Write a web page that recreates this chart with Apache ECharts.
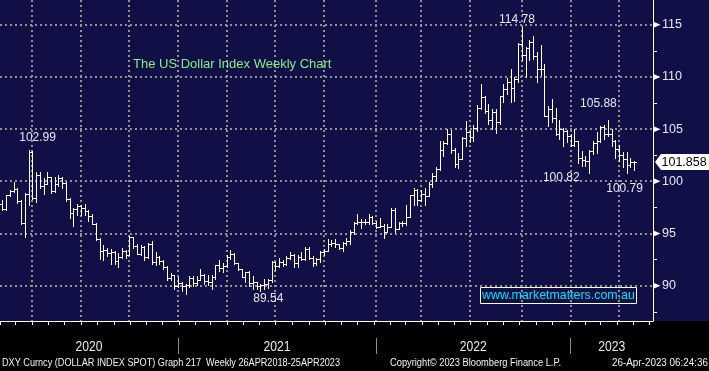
<!DOCTYPE html>
<html>
<head>
<meta charset="utf-8">
<script src="https://cdn.jsdelivr.net/npm/echarts@6/dist/echarts.min.js"></script>
<style>
html,body{margin:0;padding:0;background:#000;}
#chart{width:709px;height:371px;}
</style>
</head>
<body>
<div id="chart"></div>
<script>
// ---- data (weekly bars, week-ending Friday) ----
const weeks = [
'2020-01-17','2020-01-24','2020-01-31','2020-02-07','2020-02-14','2020-02-21','2020-02-28','2020-03-06','2020-03-13','2020-03-20',
'2020-03-27','2020-04-03','2020-04-10','2020-04-17','2020-04-24','2020-05-01','2020-05-08','2020-05-15','2020-05-22','2020-05-29',
'2020-06-05','2020-06-12','2020-06-19','2020-06-26','2020-07-03','2020-07-10','2020-07-17','2020-07-24','2020-07-31','2020-08-07',
'2020-08-14','2020-08-21','2020-08-28','2020-09-04','2020-09-11','2020-09-18','2020-09-25','2020-10-02','2020-10-09','2020-10-16',
'2020-10-23','2020-10-30','2020-11-06','2020-11-13','2020-11-20','2020-11-27','2020-12-04','2020-12-11','2020-12-18','2020-12-25',
'2021-01-01','2021-01-08','2021-01-15','2021-01-22','2021-01-29','2021-02-05','2021-02-12','2021-02-19','2021-02-26','2021-03-05',
'2021-03-12','2021-03-19','2021-03-26','2021-04-02','2021-04-09','2021-04-16','2021-04-23','2021-04-30','2021-05-07','2021-05-14',
'2021-05-21','2021-05-28','2021-06-04','2021-06-11','2021-06-18','2021-06-25','2021-07-02','2021-07-09','2021-07-16','2021-07-23',
'2021-07-30','2021-08-06','2021-08-13','2021-08-20','2021-08-27','2021-09-03','2021-09-10','2021-09-17','2021-09-24','2021-10-01',
'2021-10-08','2021-10-15','2021-10-22','2021-10-29','2021-11-05','2021-11-12','2021-11-19','2021-11-26','2021-12-03','2021-12-10',
'2021-12-17','2021-12-24','2021-12-31','2022-01-07','2022-01-14','2022-01-21','2022-01-28','2022-02-04','2022-02-11','2022-02-18',
'2022-02-25','2022-03-04','2022-03-11','2022-03-18','2022-03-25','2022-04-01','2022-04-08','2022-04-15','2022-04-22','2022-04-29',
'2022-05-06','2022-05-13','2022-05-20','2022-05-27','2022-06-03','2022-06-10','2022-06-17','2022-06-24','2022-07-01','2022-07-08',
'2022-07-15','2022-07-22','2022-07-29','2022-08-05','2022-08-12','2022-08-19','2022-08-26','2022-09-02','2022-09-09','2022-09-16',
'2022-09-23','2022-09-30','2022-10-07','2022-10-14','2022-10-21','2022-10-28','2022-11-04','2022-11-11','2022-11-18','2022-11-25',
'2022-12-02','2022-12-09','2022-12-16','2022-12-23','2022-12-30','2023-01-06','2023-01-13','2023-01-20','2023-01-27','2023-02-03',
'2023-02-10','2023-02-17','2023-02-24','2023-03-03','2023-03-10','2023-03-17','2023-03-24','2023-03-31','2023-04-07','2023-04-14',
'2023-04-21','2023-04-28'
];
const open = [
97.00,97.61,97.87,97.39,98.68,99.12,99.26,98.13,95.98,98.75,
102.82,98.36,100.59,99.52,99.77,100.37,99.06,99.73,100.36,99.85,
98.34,96.94,97.33,97.66,97.43,97.17,96.64,95.92,94.44,93.35,
93.40,93.09,93.24,92.37,92.73,93.33,92.93,94.64,93.84,93.06,
93.68,92.77,94.04,92.23,92.76,92.39,91.79,90.70,90.98,90.02,
90.26,89.94,90.10,90.77,90.24,90.58,91.04,90.48,90.36,90.88,
91.98,91.67,91.92,92.77,93.02,92.17,91.56,90.85,91.28,90.22,
90.32,90.01,90.03,90.13,90.55,92.23,91.85,92.23,92.12,92.68,
92.90,92.17,92.78,92.52,93.47,92.67,92.14,92.58,93.22,93.33,
94.04,94.08,93.97,93.64,94.12,94.33,95.13,96.03,96.09,96.14,
96.08,96.63,96.05,95.67,95.74,95.18,95.64,97.26,95.47,96.04,
96.02,96.62,98.67,99.13,98.21,98.79,98.63,99.77,100.52,101.17,
103.00,103.66,104.56,103.03,101.66,102.16,104.15,104.69,104.20,105.14,
107.01,108.07,106.73,105.90,106.62,105.69,108.15,108.82,109.54,108.97,
109.76,113.19,112.12,112.79,113.31,111.98,110.75,110.77,106.27,106.92,
106.04,104.55,104.98,104.83,104.31,103.52,103.89,102.20,102.00,101.93,
102.92,103.63,103.86,105.21,104.52,104.58,103.86,103.12,102.51,102.11,
101.55,101.82
];
const high = [
97.70,97.90,98.20,98.70,99.20,99.91,99.40,98.20,98.90,102.99,
102.90,100.93,100.90,100.30,100.90,100.40,100.40,100.60,100.40,99.90,
98.40,97.40,97.80,97.70,97.80,97.30,96.90,96.00,94.60,93.90,
93.60,93.50,93.30,93.10,93.60,93.40,94.74,94.70,94.00,93.90,
93.80,94.10,94.30,93.20,92.80,92.50,91.90,91.20,91.00,90.80,
90.40,90.20,90.95,90.90,90.90,91.60,91.10,91.00,91.00,92.00,
92.50,92.20,92.90,93.44,93.10,92.20,91.60,91.30,91.40,90.90,
90.40,90.20,90.60,90.60,92.40,92.30,92.70,92.50,92.80,93.20,
93.00,92.90,93.20,93.70,93.70,92.80,92.70,93.30,93.50,94.50,
94.40,94.50,94.00,94.20,94.60,95.30,96.10,96.90,96.40,96.40,
96.90,96.70,96.20,96.50,95.90,95.90,97.40,97.40,96.10,96.20,
97.70,98.70,99.40,99.30,99.20,99.40,99.90,100.80,101.40,103.90,
103.90,105.00,104.90,103.20,102.70,104.20,105.80,104.80,105.40,107.30,
109.29,108.20,107.40,106.90,106.90,108.20,109.30,109.90,110.80,110.00,
113.25,114.78,112.90,113.50,113.95,112.40,113.10,111.20,107.20,107.90,
107.00,105.90,105.10,104.90,104.50,105.00,103.90,102.90,102.40,103.00,
103.90,104.70,105.30,105.40,105.88,105.00,104.00,103.50,102.80,102.80,
102.20,101.90
];
const low = [
96.90,97.30,97.30,97.30,98.60,99.00,97.90,95.90,94.65,97.70,
98.30,98.00,99.40,98.80,99.70,98.90,99.00,99.60,99.40,98.10,
96.50,95.70,96.80,96.80,96.80,96.20,95.90,94.40,92.55,92.50,
92.80,92.10,92.10,91.75,92.70,92.70,92.90,93.60,93.00,92.90,
92.50,92.70,92.10,92.00,92.10,91.60,90.50,90.50,89.70,89.90,
89.50,89.21,89.90,90.00,90.10,90.50,90.20,90.10,89.70,90.60,
91.40,91.30,91.80,92.60,92.10,91.50,90.80,90.40,90.00,89.70,
89.65,89.54,89.70,89.80,90.40,91.50,91.80,91.90,92.00,92.60,
91.80,91.80,92.50,92.50,92.60,91.90,92.00,92.30,92.90,93.30,
93.80,93.70,93.50,93.30,93.90,94.00,95.00,95.90,95.50,95.90,
95.90,95.90,95.50,95.60,94.60,95.10,95.60,95.10,95.40,95.70,
95.80,96.60,97.70,97.70,98.10,97.70,98.60,99.50,100.00,101.10,
102.40,103.60,102.70,101.40,101.30,102.10,103.40,103.80,103.90,104.80,
106.90,106.50,105.50,105.00,104.60,105.50,107.60,108.40,107.60,107.70,
109.50,111.60,110.00,111.60,111.70,109.50,110.20,106.25,105.30,105.70,
104.40,104.10,103.40,103.80,103.40,103.40,101.80,101.50,101.50,100.82,
102.60,102.70,103.80,104.10,104.30,103.40,102.20,101.90,101.40,100.79,
101.40,101.10
];
const close = [
97.61,97.87,97.39,98.68,99.12,99.26,98.13,95.98,98.75,102.82,
98.36,100.59,99.52,99.77,100.37,99.06,99.73,100.36,99.85,98.34,
96.94,97.33,97.66,97.43,97.17,96.64,95.92,94.44,93.35,93.40,
93.09,93.24,92.37,92.73,93.33,92.93,94.64,93.84,93.06,93.68,
92.77,94.04,92.23,92.76,92.39,91.79,90.70,90.98,90.02,90.26,
89.94,90.10,90.77,90.24,90.58,91.04,90.48,90.36,90.88,91.98,
91.67,91.92,92.77,93.02,92.17,91.56,90.85,91.28,90.22,90.32,
90.01,90.03,90.13,90.55,92.23,91.85,92.23,92.12,92.68,92.90,
92.17,92.78,92.52,93.47,92.67,92.14,92.58,93.22,93.33,94.04,
94.08,93.97,93.64,94.12,94.33,95.13,96.03,96.09,96.14,96.08,
96.63,96.05,95.67,95.74,95.18,95.64,97.26,95.47,96.04,96.02,
96.62,98.67,99.13,98.21,98.79,98.63,99.77,100.52,101.17,103.00,
103.66,104.56,103.03,101.66,102.16,104.15,104.69,104.20,105.14,107.01,
108.07,106.73,105.90,106.62,105.69,108.15,108.82,109.54,108.97,109.76,
113.19,112.12,112.79,113.31,111.98,110.75,110.77,106.27,106.92,106.04,
104.55,104.98,104.83,104.31,103.52,103.89,102.20,102.00,101.93,102.92,
103.63,103.86,105.21,104.52,104.58,103.86,103.12,102.51,102.11,101.55,
101.82,101.858
];
const yTicks = [90, 95, 100, 105, 110, 115];
const yMinorTicks = [87.5, 92.5, 97.5, 102.5, 107.5, 112.5];
const annotIdx  = [9, 141, 164, 159, 169, 71];
const annotSide = ['high', 'high', 'high', 'low', 'low', 'low'];
const chartTitle = 'The US Dollar Index Weekly Chart';
const siteText = 'www.marketmatters.com.au';
const footerLeft = 'DXY Curncy (DOLLAR INDEX SPOT) Graph 217  Weekly 26APR2018-25APR2023';
const footerMid = 'Copyright\u00A9 2023 Bloomberg Finance L.P.';
const footerRight = '26-Apr-2023 06:24:36';

// ---- layout / style ----
const X_MIN = 1.36, X_MAX = 176.06, Y_MIN = 86.62, Y_MAX = 117.37;
const NAVY = '#100f46';
const GRID_COLOR = '#929292';
const LABEL_COLOR = '#e2e8f8';
const FONT = '"Liberation Sans", Arial, sans-serif';
const ANNOT_OFFSETS = [[9, -12], [-5, -7.4], [-9.5, -16.3], [-28, 5], [-2, 15.6], [8, 8]];

// ---- derived axis positions from dates ----
const WEEK = 7 * 86400000;
const t0 = Date.parse(weeks[0] + 'T00:00:00Z');
const monthTicks = [];
for (let y = 2020; y <= 2023; y++) {
  for (let m = 0; m < 12; m++) {
    const p = (Date.UTC(y, m, 1) - t0) / WEEK - 0.75;
    if (p > X_MIN && p < X_MAX) monthTicks.push(+p.toFixed(3));
  }
}
const quarterIdx = [], yearIdx = [];
for (let i = 0; i < weeks.length - 1; i++) {
  const a = weeks[i], b = weeks[i + 1];
  const ma = +a.slice(5, 7) - 1, mb = +b.slice(5, 7) - 1;
  if (Math.floor(ma / 3) !== Math.floor(mb / 3)) quarterIdx.push(i);
  if (a.slice(0, 4) !== b.slice(0, 4)) yearIdx.push(i);
}
const yb = [X_MIN].concat(yearIdx, [X_MAX]);
const yearMid = [], yearName = [];
for (let k = 0; k < yb.length - 1; k++) {
  const mid = (yb[k] + yb[k + 1]) / 2;
  yearMid.push(mid);
  yearName.push(weeks[Math.min(weeks.length - 1, Math.round(mid))].slice(0, 4));
}

function fitScale(str, font, w) {
  const ctx = document.createElement('canvas').getContext('2d');
  ctx.font = font;
  return w / ctx.measureText(str).width;
}
const FOOT_FONT = '10px "Liberation Sans"';
const YEAR_FONT = '15px "Liberation Sans"';
const footers = [
  { text: footerLeft, x: 2, w: 338 },
  { text: footerMid, x: 390, w: 171 },
  { text: footerRight, x: 612, w: 96 }
];
const yearScale = fitScale('2020', YEAR_FONT, 27);

const ohlcData = weeks.map((d, i) => [i, open[i], high[i], low[i], close[i]]);

const chart = echarts.init(document.getElementById('chart'), null, { renderer: 'canvas' });
const option = {
  backgroundColor: '#000',
  animation: false,
  textStyle: { fontFamily: FONT },
  graphic: [
    { type: 'rect', z: -100, silent: true, shape: { x: 0, y: 0, width: 709, height: 321 }, style: { fill: NAVY } }
  ].concat(footers.map(f => ({
    type: 'text', x: f.x, y: 363, scaleX: fitScale(f.text, FOOT_FONT, f.w), scaleY: 1, silent: true,
    style: { text: f.text, font: FOOT_FONT, fill: '#f2f2f2', align: 'left', verticalAlign: 'middle' }
  }))),
  title: [
    { text: chartTitle, left: 133, top: 58, padding: 0,
      textStyle: { color: '#86ee86', fontSize: 13, fontWeight: 'normal', fontFamily: FONT } },
    { text: siteText, left: 480, top: 287, padding: [2, 2, 1, 2], borderColor: '#ffffff', borderWidth: 1,
      textStyle: { color: '#00e4f0', fontSize: 12.4, lineHeight: 14, fontWeight: 'normal', fontFamily: FONT } }
  ],
  grid: { left: 0, right: 56, top: 0, bottom: 50, containLabel: false, outerBoundsMode: 'none' },
  xAxis: [
    { type: 'value', position: 'bottom', min: X_MIN, max: X_MAX,
      axisLine: { show: true, onZero: false, lineStyle: { color: '#ffffff', width: 1 } },
      axisTick: { show: true, inside: false, length: 4, customValues: monthTicks, lineStyle: { color: '#ffffff', width: 1 } },
      axisLabel: { show: false }, splitLine: { show: false } },
    { type: 'value', position: 'bottom', offset: 17, min: X_MIN, max: X_MAX,
      axisLine: { show: false, onZero: false },
      axisTick: { show: true, inside: false, length: 16, customValues: yearIdx, lineStyle: { color: '#8c8c8c', width: 1 } },
      axisLabel: { show: false },
      splitLine: { show: false } }
  ],
  yAxis: {
    type: 'value', position: 'right', min: Y_MIN, max: Y_MAX,
    axisLine: { show: true, onZero: false, lineStyle: { color: '#ffffff', width: 1 } },
    axisTick: { show: true, inside: false, length: 4, customValues: yMinorTicks, lineStyle: { color: '#ffffff', width: 1 } },
    axisLabel: { show: true, customValues: yTicks, margin: 9, color: LABEL_COLOR, fontSize: 12.5, fontFamily: FONT },
    splitLine: { show: false }
  },
  series: [
    { type: 'custom', name: 'vgrid', silent: true, z: 1, clip: true,
      data: quarterIdx.map(i => [i, Y_MIN]), encode: { x: 0, y: 1 },
      renderItem: (params, api) => {
        const cs = params.coordSys;
        const x = Math.round(api.coord([api.value(0), api.value(1)])[0]);
        return { type: 'line', shape: { x1: x, y1: cs.y, x2: x, y2: cs.y + cs.height },
          style: { stroke: GRID_COLOR, lineWidth: 2, lineDash: [2, 3] } };
      } },
    { type: 'custom', name: 'hgrid', silent: true, z: 1, clip: true,
      data: yTicks.map(v => [X_MIN, v]), encode: { x: 0, y: 1 },
      renderItem: (params, api) => {
        const cs = params.coordSys;
        const y = Math.round(api.coord([api.value(0), api.value(1)])[1]);
        return { type: 'line', shape: { x1: cs.x, y1: y, x2: cs.x + cs.width, y2: y },
          style: { stroke: GRID_COLOR, lineWidth: 2, lineDash: [2, 3] } };
      } },
    { type: 'custom', name: 'DXY', silent: true, z: 3, clip: true,
      data: ohlcData, encode: { x: 0, y: [1, 2, 3, 4] },
      renderItem: (params, api) => {
        const i = api.value(0);
        const pH = api.coord([i, api.value(2)]);
        const pL = api.coord([i, api.value(3)]);
        const yO = Math.round(api.coord([i, api.value(1)])[1]) + 0.5;
        const yC = Math.round(api.coord([i, api.value(4)])[1]) + 0.5;
        const x = Math.round(pH[0]) + 0.5;
        const st = { stroke: '#ffffff', lineWidth: 1 };
        return { type: 'group', children: [
          { type: 'line', shape: { x1: x, y1: Math.round(pH[1]), x2: x, y2: Math.round(pL[1]) + 1 }, style: st },
          { type: 'line', shape: { x1: x - 2.5, y1: yO, x2: x, y2: yO }, style: st },
          { type: 'line', shape: { x1: x, y1: yC, x2: x + 2.5, y2: yC }, style: st }
        ] };
      } },
    { type: 'custom', name: 'yMarks', silent: true, z: 4, clip: false,
      data: yTicks.map(v => [X_MAX, v]), encode: { x: 0, y: 1 },
      renderItem: (params, api) => {
        const p = api.coord([api.value(0), api.value(1)]);
        const x = Math.round(p[0]) + 0.5, y = p[1];
        return { type: 'polygon', shape: { points: [[x, y - 3], [x + 7, y], [x, y + 3]] }, style: { fill: '#ffffff' } };
      } },
    { type: 'custom', name: 'years', silent: true, z: 4, clip: false,
      data: yearMid.map(m => [m, Y_MIN]), encode: { x: 0, y: 1 },
      renderItem: (params, api) => {
        const cs = params.coordSys;
        const p = api.coord([api.value(0), api.value(1)]);
        return { type: 'text', x: p[0], y: cs.y + cs.height + 26, scaleX: yearScale, scaleY: 1,
          style: { text: yearName[params.dataIndex], font: YEAR_FONT, fill: '#e8e8e8', align: 'center', verticalAlign: 'middle' } };
      } },
    { type: 'custom', name: 'annotations', silent: true, z: 4, clip: false,
      data: annotIdx.map((i, k) => [i, annotSide[k] === 'high' ? high[i] : low[i]]), encode: { x: 0, y: 1 },
      renderItem: (params, api) => {
        const v = api.value(1);
        const p = api.coord([api.value(0), v]);
        const off = ANNOT_OFFSETS[params.dataIndex];
        return { type: 'text', x: p[0] + off[0], y: p[1] + off[1],
          style: { text: v.toFixed(2), fill: LABEL_COLOR, fontSize: 12, fontFamily: FONT, align: 'center', verticalAlign: 'middle' } };
      } },
    { type: 'custom', name: 'lastPrice', silent: true, z: 5, clip: false,
      data: [[X_MAX, close[close.length - 1]]], encode: { x: 0, y: 1 },
      renderItem: (params, api) => {
        const v = api.value(1);
        const p = api.coord([api.value(0), v]);
        const x = Math.round(p[0]), y = p[1];
        return { type: 'group', children: [
          { type: 'polygon', shape: { points: [[x + 2, y], [x + 8, y - 8], [x + 62, y - 8], [x + 62, y + 8], [x + 8, y + 8]] },
            style: { fill: '#ffffff' } },
          { type: 'text', x: x + 8.5, y: y + 0.5,
            style: { text: v.toFixed(3), fill: '#000000', fontSize: 12.5, fontFamily: FONT, align: 'left', verticalAlign: 'middle' } }
        ] };
      } }
  ]
};
chart.setOption(option);
</script>
</body>
</html>
